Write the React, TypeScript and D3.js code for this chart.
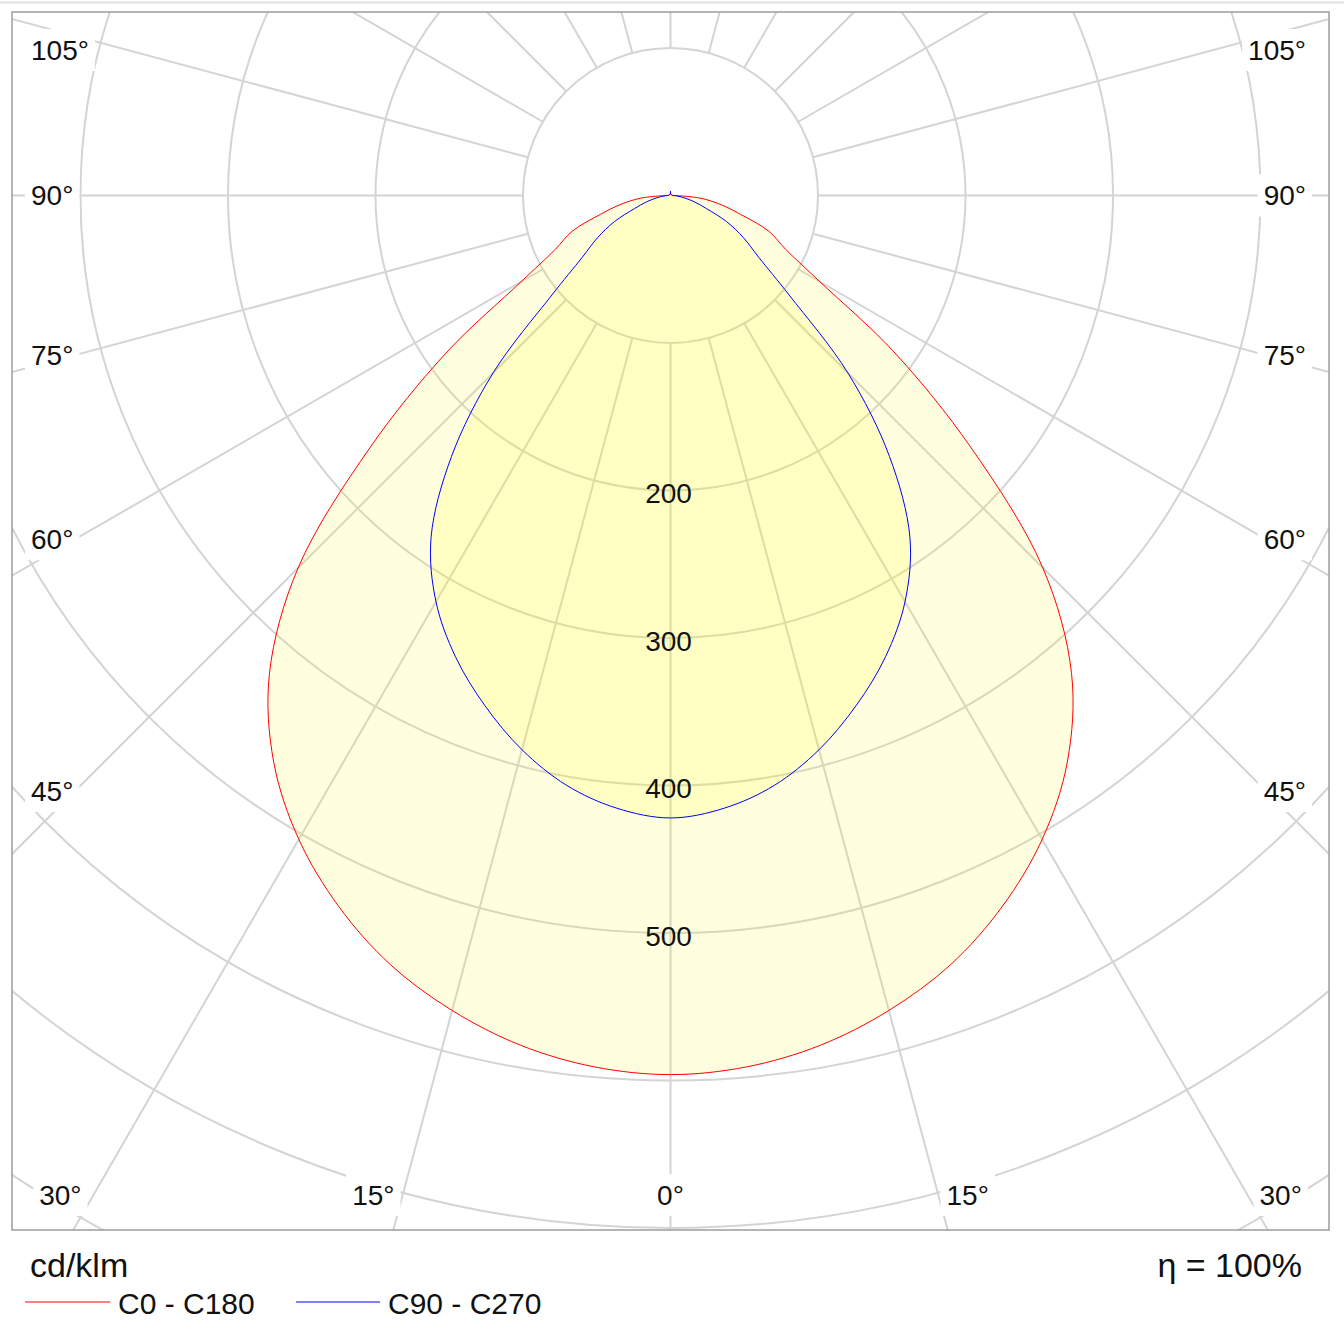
import React from 'react';
import * as d3 from 'd3';

// Gamma angles (degrees from nadir) at which intensities were read
const gammaAngles = [0, 5, 10, 15, 20, 25, 30, 35, 40, 45, 50, 55, 60, 65, 70, 75, 80, 85, 90,
  95, 100, 105, 110, 115, 120, 125, 130, 135, 140, 145, 150, 155, 160, 165, 170, 175, 180];

// C0 - C180 plane (cd/klm)
const c0c180 = [596, 593, 585, 572, 555, 532, 504, 469, 423, 357, 266, 185, 117, 86, 71, 49, 34, 20, 3,
  1, 1, 1, 1, 1, 1, 1, 1, 1, 1, 1, 1, 1, 1, 1, 1, 1, 3];

// C90 - C270 plane (cd/klm)
const c90c270 = [422, 417, 406, 389, 368, 345, 318, 283, 231, 170, 105, 73, 57, 42, 26, 17, 10, 5, 2,
  1, 1, 1, 1, 1, 1, 1, 1, 1, 1, 1, 1, 1, 1, 1, 1, 1, 3];

const ringValues = [100, 200, 300, 400, 500, 600, 700, 800];
const ringLabelValues = [200, 300, 400, 500];
const spokeAngles = [0, 15, 30, 45, 60, 75, 90, 105, 120, 135, 150, 165, 180, 195, 210, 225, 240, 255, 270, 285, 300, 315, 330, 345];
const angleLabels = [0, 15, 30, 45, 60, 75, 90, 105];

const series = [
  { name: 'C0 - C180', values: c0c180, color: '#ff0000' },
  { name: 'C90 - C270', values: c90c270, color: '#0000ff' },
];

const W = 1344;
const H = 1344;
const frame = { x: 12, y: 12, w: 1317, h: 1218 };
const cx = 670.5;
const cy = 195.5;
const FONT = '"Liberation Sans", Arial, Helvetica, sans-serif';
const LABEL_FS = 28;
const rad = Math.PI / 180;

const r = d3.scaleLinear().domain([0, 100]).range([0, 147.5]);

function labelWidth(s: string, fs: number) {
  let w = 0;
  for (const ch of s) w += ch === '°' ? 0.4 : 0.556;
  return w * fs;
}

function curvePoints(values: number[]): [number, number][] {
  const pts: [number, number][] = [];
  gammaAngles.forEach((g, i) => pts.push([Math.PI - g * rad, values[i]]));
  for (let i = gammaAngles.length - 2; i >= 1; i--) {
    pts.push([Math.PI + gammaAngles[i] * rad, values[i]]);
  }
  return pts;
}

export default function App() {
  const radial = d3
    .lineRadial<[number, number]>()
    .angle((d) => d[0])
    .radius((d) => r(d[1]))
    .curve(d3.curveCatmullRomClosed.alpha(0.5));

  // angle label placement along the frame
  const labels: { text: string; x: number; y: number; anchor: string }[] = [];
  angleLabels.forEach((a) => {
    const text = `${a}°`;
    const t = a * rad;
    if (a === 0) {
      labels.push({ text, x: cx, y: 1195, anchor: 'middle' });
    } else if (a <= 30) {
      const off = (1207 - cy) * Math.tan(t) + 5;
      labels.push({ text, x: cx - off, y: 1195, anchor: 'end' });
      labels.push({ text, x: cx + off, y: 1195, anchor: 'start' });
    } else {
      const yy = a === 90 ? cy : Math.max(50, cy + (cx - 75) / Math.tan(t));
      labels.push({ text, x: 31, y: yy, anchor: 'start' });
      labels.push({ text, x: 1306, y: yy, anchor: 'end' });
    }
  });

  return (
    <svg
      width={W}
      height={H}
      viewBox={`0 0 ${W} ${H}`}
      style={{ position: 'absolute', left: 0, top: 0, background: '#fff' }}
      fontFamily={FONT}
    >
      <defs>
        <clipPath id="frameClip">
          <rect x={frame.x} y={frame.y} width={frame.w} height={frame.h} />
        </clipPath>
      </defs>
      <rect x={0} y={0} width={W} height={H} fill="#fff" />
      <line x1={0} x2={W} y1={2.5} y2={2.5} stroke="#e2e2e2" strokeWidth={2} />

      <g clipPath="url(#frameClip)">
        {/* grid */}
        <g stroke="#d4d4d4" strokeWidth={2} fill="none">
          {ringValues.map((v) => (
            <circle key={v} cx={cx} cy={cy} r={r(v)} />
          ))}
          {spokeAngles.map((a) => {
            const t = a * rad;
            return (
              <line
                key={a}
                x1={cx + r(100) * Math.sin(t)}
                y1={cy + r(100) * Math.cos(t)}
                x2={cx + r(1200) * Math.sin(t)}
                y2={cy + r(1200) * Math.cos(t)}
              />
            );
          })}
        </g>

        {/* fills and outlines */}
        <g transform={`translate(${cx},${cy})`}>
          {series.map((s) => (
            <path key={s.name + 'f'} d={radial(curvePoints(s.values)) || ''} fill="rgba(255,255,0,0.125)" stroke="none" />
          ))}
          {series.map((s) => (
            <path key={s.name + 's'} d={radial(curvePoints(s.values)) || ''} fill="none" stroke={s.color} strokeWidth={1} />
          ))}
        </g>

        {/* value labels */}
        {ringLabelValues.map((v) => (
          <text key={v} x={cx - 2} y={cy + r(v) + 3} textAnchor="middle" dominantBaseline="central" fontSize={LABEL_FS} fill="#111">
            {v}
          </text>
        ))}

        {/* angle labels */}
        {labels.map((l, i) => {
          const w = labelWidth(l.text, LABEL_FS);
          const x0 = l.anchor === 'start' ? l.x : l.anchor === 'end' ? l.x - w : l.x - w / 2;
          return (
            <g key={i}>
              <rect x={x0 - 6} y={l.y - 21} width={w + 12} height={42} fill="#fff" />
              <text x={l.x} y={l.y} textAnchor={l.anchor as any} dominantBaseline="central" fontSize={LABEL_FS} fill="#111">
                {l.text}
              </text>
            </g>
          );
        })}
      </g>

      <rect x={frame.x} y={frame.y} width={frame.w} height={frame.h} fill="none" stroke="#9c9c9c" strokeWidth={1.5} />

      {/* footer */}
      <text x={30} y={1265} dominantBaseline="central" fontSize={34} fill="#111">cd/klm</text>
      <text x={1302} y={1265} dominantBaseline="central" textAnchor="end" fontSize={34} fill="#111">η = 100%</text>
      <line x1={25} x2={110} y1={1302} y2={1302} stroke={series[0].color} strokeWidth={1} />
      <text x={118} y={1303} dominantBaseline="central" fontSize={30} fill="#111">{series[0].name}</text>
      <line x1={296} x2={380} y1={1302} y2={1302} stroke={series[1].color} strokeWidth={1} />
      <text x={388} y={1303} dominantBaseline="central" fontSize={30} fill="#111">{series[1].name}</text>
    </svg>
  );
}
